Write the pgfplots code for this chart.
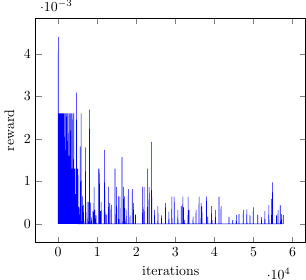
\documentclass[border=0pt]{standalone}
\usepackage{pgfplots}
\pgfplotsset{compat=1.18}
\usepackage{pgfplotstable}
\pgfplotstableread{
x y
0 0
20 4.4e-3
40 0
60 3.47e-3
80 0
100 2.6e-3
130 0
160 2.32e-3
190 0
220 2.6e-3
250 0.1e-3
280 2.32e-3
310 0
340 2.6e-3
370 0
400 2.32e-3
430 0.2e-3
460 2.6e-3
490 0
520 2.32e-3
550 0
580 2.6e-3
610 0
640 2.0e-3
670 0
700 2.6e-3
730 0
760 1.74e-3
790 0
820 1.74e-3
850 0
880 2.6e-3
910 0
940 1.74e-3
970 0.3e-3
1000 1.74e-3
1030 0
1060 2.6e-3
1090 0
1120 1.74e-3
1150 0
1180 1.74e-3
1210 0
1240 2.6e-3
1270 0
1300 1.74e-3
1330 0
1360 1.5e-3
1390 0
1420 1.74e-3
1450 0
1480 2.6e-3
1510 0
1540 1.74e-3
1570 0
1600 1.74e-3
1630 0
1660 2.05e-3
1690 0
1720 1.74e-3
1750 0
1780 2.6e-3
1810 0
1840 1.74e-3
1870 0
1900 1.3e-3
1930 0
1960 1.74e-3
1990 0
2020 2.6e-3
2050 0
2080 1.3e-3
2110 0
2140 1.55e-3
2170 0
2200 1.3e-3
2230 0
2260 2.6e-3
2290 0
2320 1.3e-3
2350 0
2380 1.95e-3
2410 0
2440 1.3e-3
2470 0
2500 1.3e-3
2530 0
2560 2.6e-3
2590 0
2620 1.3e-3
2650 0
2680 1.3e-3
2710 0
2740 1.6e-3
2770 0
2800 1.3e-3
2830 0
2860 1.3e-3
2890 0
2920 2.6e-3
2950 0
2980 1.3e-3
3010 0
3040 1.3e-3
3070 0
3100 1.3e-3
3130 0
3160 2.6e-3
3190 0
3220 1.3e-3
3250 0
3280 1.3e-3
3310 0
3340 1.0e-3
3370 0
3400 1.3e-3
3430 0
3460 2.6e-3
3490 0
3520 1.3e-3
3550 0
3580 1.3e-3
3610 0
3640 0.9e-3
3670 0
3700 1.3e-3
3730 0
3760 2.6e-3
3790 0
3820 1.3e-3
3850 0
3880 1.3e-3
3910 0
3940 0.8e-3
3970 0
4000 2.6e-3
4030 0
4060 1.3e-3
4090 0
4120 0.8e-3
4150 0
4180 1.3e-3
4210 0
4240 0.7e-3
4270 0
4300 1.3e-3
4330 0
4360 0.7e-3
4390 0
4420 0.5e-3
4450 0
4500 0.7e-3
4550 0
4620 0.5e-3
4660 0
4700 3.09e-3
4740 0
4800 0.4e-3
4850 0
4900 1.3e-3
4950 0
5050 1.3e-3
5150 0
5260 0
5300 0.4e-3
5340 0
5580 0
5620 1.82e-3
5660 0
5830 0
5870 2.6e-3
5910 0
6160 0
6200 0.65e-3
6240 0
6460 0
6500 0.45e-3
6540 0
6930 0
6970 1.8e-3
7010 0
7360 0
7400 0.52e-3
7440 0
7760 0
7800 0.52e-3
7840 0
7960 0
8000 2.69e-3
8040 0
8160 0
8200 0.5e-3
8240 0
8460 0
8500 0.15e-3
8540 0
8860 0
8900 0.3e-3
8940 0
9150 0
9190 0.87e-3
9230 0
9360 0
9400 0.33e-3
9440 0
9660 0
9700 0.2e-3
9740 0
10340 0
10380 1.3e-3
10420 0
10460 0
10500 1.3e-3
10540 0
10560 0
10600 0.95e-3
10640 0
10760 0
10800 0.3e-3
10840 0
10960 0
11000 0.52e-3
11040 0
11790 0
11830 1.74e-3
11870 0
11910 0
11950 0.79e-3
11990 0
12260 0
12300 0.22e-3
12340 0
12810 0
12850 0.87e-3
12890 0
13160 0
13200 0.49e-3
13240 0
13560 0
13600 0.45e-3
13640 0
14510 0
14550 1.3e-3
14590 0
14860 0
14900 0.87e-3
14940 0
15360 0
15400 0.65e-3
15440 0
15760 0
15800 0.65e-3
15840 0
16300 0
16340 1.57e-3
16380 0
16660 0
16700 0.87e-3
16740 0
16960 0
17000 0.65e-3
17040 0
17360 0
17400 0.33e-3
17440 0
17910 0
17950 0.82e-3
17990 0
18360 0
18400 0.2e-3
18440 0
18930 0
18970 0.82e-3
19010 0
19260 0
19300 0.49e-3
19340 0
19760 0
19800 0.22e-3
19840 0
21580 0
21620 0.87e-3
21660 0
21960 0
22000 0.87e-3
22040 0
22860 0
22900 1.3e-3
22940 0
23260 0
23300 0.87e-3
23340 0
23880 0
23920 1.93e-3
23960 0
24640 0
24680 0.33e-3
24720 0
25490 0
25530 0.42e-3
25570 0
26430 0
26470 0.2e-3
26510 0
27450 0
27490 0.49e-3
27530 0
28300 0
28340 0.29e-3
28380 0
29060 0
29100 0.64e-3
29140 0
29660 0
29700 0.64e-3
29740 0
30600 0
30640 0.33e-3
30680 0
31460 0
31500 0.42e-3
31540 0
31870 0
31910 0.64e-3
31950 0
32060 0
32100 0.39e-3
32140 0
32260 0
32300 0.09e-3
32340 0
33230 0
33270 0.64e-3
33310 0
33460 0
33500 0.33e-3
33540 0
34500 0
34540 0.17e-3
34580 0
35260 0
35300 0.33e-3
35340 0
36030 0
36070 0.64e-3
36110 0
36560 0
36600 0.49e-3
36640 0
36760 0
36800 0.41e-3
36840 0
37920 0
37960 0.64e-3
38000 0
38260 0
38300 0.17e-3
38340 0
39190 0
39230 0.42e-3
39270 0
39360 0
39400 0.09e-3
39440 0
40210 0
40250 0.33e-3
40290 0
41140 0
41180 0.64e-3
41220 0
41660 0
41700 0.42e-3
41740 0
43690 0
43730 0.16e-3
43770 0
44660 0
44700 0.09e-3
44740 0
45580 0
45620 0.21e-3
45660 0
46260 0
46300 0.23e-3
46340 0
47360 0
47400 0.33e-3
47440 0
48260 0
48300 0.34e-3
48340 0
49060 0
49100 0.21e-3
49140 0
49920 0
49960 0.39e-3
50000 0
51060 0
51100 0.21e-3
51140 0
52040 0
52080 0.16e-3
52120 0
52880 0
52920 0.3e-3
52960 0
53900 0
53940 0.44e-3
53980 0
54610 0
54650 0.59e-3
54690 0
54850 0
54890 0.98e-3
54930 0
55860 0
55900 0.2e-3
55940 0
56260 0
56300 0.33e-3
56340 0
56810 0
56850 0.44e-3
56890 0
57110 0
57150 0.23e-3
57190 0
57580 0
57620 0.21e-3
57620 0
}\rewarddata
\begin{document}
\begin{tikzpicture}
\begin{axis}[
  xlabel={iterations},
  ylabel={reward},
]
\addplot[blue, mark=none] table[x=x, y=y] {\rewarddata};
\end{axis}
\end{tikzpicture}
\end{document}
